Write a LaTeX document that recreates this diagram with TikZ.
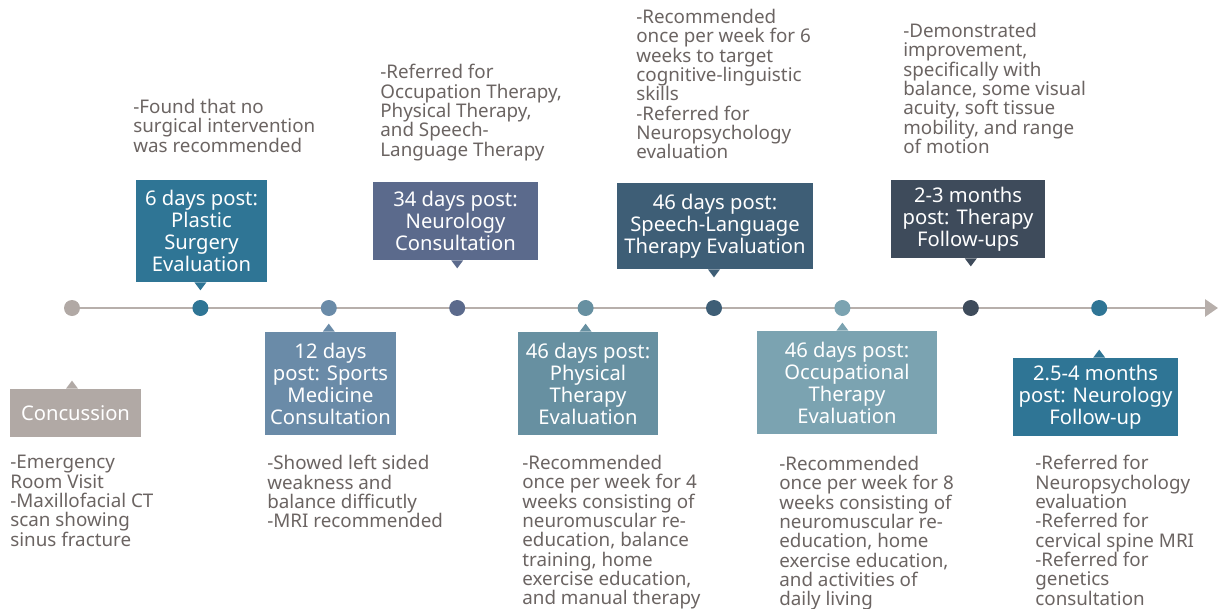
\documentclass[tikz,border=0pt]{standalone}
\usepackage{fontspec}
\setmainfont{Noto Sans}
\usepackage{tikz}
\usetikzlibrary{arrows.meta,positioning,calc}
\definecolor{axisgray}{HTML}{B7AFAB}
\definecolor{notegray}{HTML}{6B6462}
\definecolor{concgray}{HTML}{B1A9A5}
\definecolor{plasticblue}{HTML}{2F7595}
\definecolor{sportsblue}{HTML}{6A8BA8}
\definecolor{neuroslate}{HTML}{5B6A8C}
\definecolor{ptblue}{HTML}{6790A1}
\definecolor{sltblue}{HTML}{3E5E76}
\definecolor{otblue}{HTML}{7BA3B1}
\definecolor{fudark}{HTML}{3E4B5B}

\tikzset{
  stage/.style={fill=#1, text=white, align=center, inner sep=0pt,
    font=\fontsize{11.5}{12.5}\selectfont},
  note/.style={text=notegray, align=left, inner sep=0pt, anchor=north west,
    font=\fontsize{10.7}{11}\selectfont},
  event/.style={circle, fill=#1, minimum size=0.32cm, inner sep=0pt},
}

\begin{document}
\begin{tikzpicture}[x=0.02cm, y=-0.02cm]
\useasboundingbox (0,0) rectangle (1218,609);
% time axis with its arrow
\coordinate (t0) at (72,308);
\coordinate (t1) at (1218,308);
\draw[axisgray, line width=1.7pt, -{Triangle[length=0.26cm, width=0.34cm]}] (t0) -- (t1);
\foreach \n/\c [count=\i from 0] in {e0/concgray, e1/plasticblue, e2/sportsblue,
    e3/neuroslate, e4/ptblue, e5/sltblue, e6/otblue, e7/fudark, e8/plasticblue}{
  \node[event=\c] (\n) at ({72+128.4*\i},308) {};
}

% stage boxes
\node[stage=concgray, minimum width=2.62cm, minimum height=0.96cm] (b0) at (75.5,413) {Concussion};
\node[stage=plasticblue, minimum width=2.62cm, minimum height=2.04cm] (b1) at (201.5,231)
  {6 days post:\\Plastic\\Surgery\\Evaluation};
\node[stage=sportsblue, minimum width=2.62cm, minimum height=2.06cm] (b2) at (330.5,383.5)
  {12 days\\post: Sports\\Medicine\\Consultation};
\node[stage=neuroslate, minimum width=3.3cm, minimum height=1.56cm] (b3) at (455.5,221)
  {34 days post:\\Neurology\\Consultation};
\node[stage=ptblue, minimum width=2.8cm, minimum height=2.06cm] (b4) at (588,383.5)
  {46 days post:\\Physical\\Therapy\\Evaluation};
\node[stage=sltblue, minimum width=3.92cm, minimum height=1.72cm] (b5) at (715,226)
  {46 days post:\\Speech-Language\\Therapy Evaluation};
\node[stage=otblue, minimum width=3.6cm, minimum height=2.06cm] (b6) at (847,382.5)
  {46 days post:\\Occupational\\Therapy\\Evaluation};
\node[stage=fudark, minimum width=3.08cm, minimum height=1.56cm] (b7) at (968,219)
  {2-3 months\\post: Therapy\\Follow-ups};
\node[stage=plasticblue, minimum width=3.3cm, minimum height=1.56cm] (b8) at (1095.5,397)
  {2.5-4 months\\post: Neurology\\Follow-up};

% little pointers from each box towards its event (s=-1 up, s=1 down)
\foreach \e/\b/\a/\s/\c in {e0/b0/north/-1/concgray, e1/b1/south/1/plasticblue,
    e2/b2/north/-1/sportsblue, e3/b3/south/1/neuroslate, e4/b4/north/-1/ptblue,
    e5/b5/south/1/sltblue, e6/b6/north/-1/otblue, e7/b7/south/1/fudark,
    e8/b8/north/-1/plasticblue}{
  \fill[\c] ($(\e |- \b.\a)+(-6,0)$) -- ++(6,{8*\s}) -- ++(6,{-8*\s}) -- cycle;
}

% notes above the axis
\node[note] (n1) at (133,99) {-Found that no\\surgical intervention\\was recommended};
\node[note] (n3) at (380,64) {-Referred for\\Occupation Therapy,\\Physical Therapy,\\and Speech-\\Language Therapy};
\node[note] (n5) at (636,9) {-Recommended\\once per week for 6\\weeks to target\\cognitive-linguistic\\skills\\-Referred for\\Neuropsychology\\evaluation};
\node[note] (n7) at (903,23) {-Demonstrated\\improvement,\\specifically with\\balance, some visual\\acuity, soft tissue\\mobility, and range\\of motion};

% notes below the axis
\node[note] (n0) at (10,455) {-Emergency\\Room Visit\\-Maxillofacial CT\\scan showing\\sinus fracture};
\node[note] (n2) at (267,455) {-Showed left sided\\weakness and\\balance difficutly\\-MRI recommended};
\node[note] (n4) at (522,455) {-Recommended\\once per week for 4\\weeks consisting of\\neuromuscular re-\\education, balance\\training, home\\exercise education,\\and manual therapy};
\node[note] (n6) at (779,456) {-Recommended\\once per week for 8\\weeks consisting of\\neuromuscular re-\\education, home\\exercise education,\\and activities of\\daily living};
\node[note] (n8) at (1035,455) {-Referred for\\Neuropsychology\\evaluation\\-Referred for\\cervical spine MRI\\-Referred for\\genetics\\consultation};
\end{tikzpicture}
\end{document}
